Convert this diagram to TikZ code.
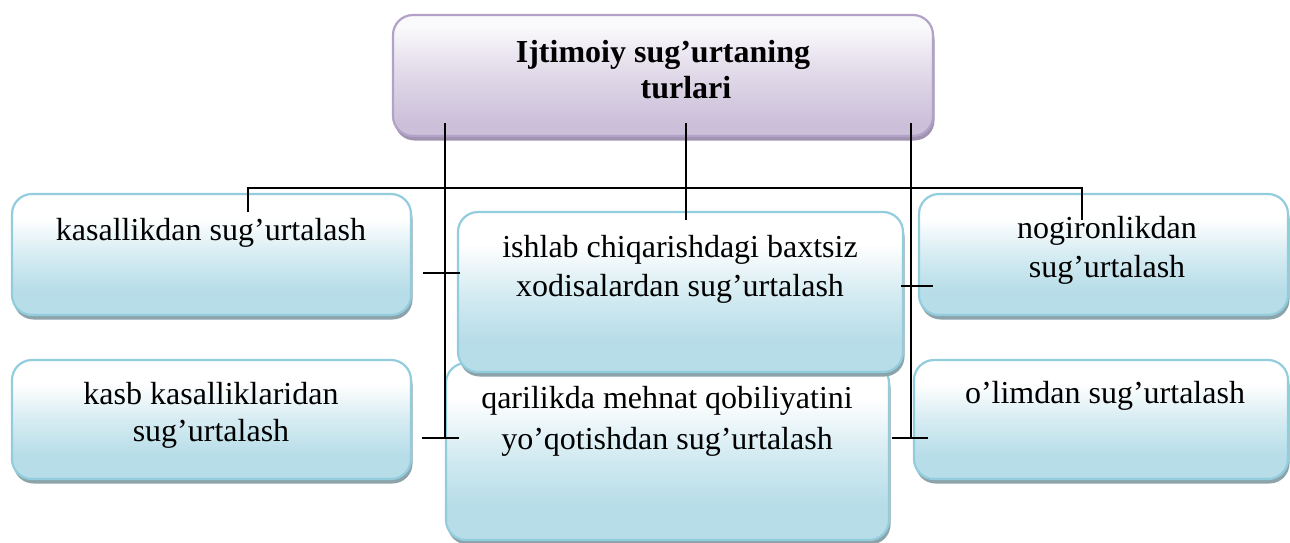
\documentclass[tikz,border=0pt]{standalone}
\usepackage{fontspec}
\setmainfont{Liberation Serif}
\usetikzlibrary{shadows}
\definecolor{bborder}{HTML}{93CDDD}
\definecolor{bbot}{HTML}{B7DDE8}
\definecolor{bmid}{HTML}{D6ECF2}
\definecolor{bshadowc}{HTML}{8CA3AA}
\definecolor{pborder}{HTML}{B3A2C7}
\definecolor{pbot}{HTML}{CBBFD9}
\definecolor{pmid}{HTML}{E2DBEA}
\definecolor{ptop}{HTML}{FAF9FB}
\definecolor{pshadowc}{HTML}{A093B0}
\pgfdeclareverticalshading{bluegrad}{100bp}{color(0bp)=(bbot); color(35bp)=(bbot); color(50bp)=(bmid); color(65bp)=(white); color(100bp)=(white)}
\pgfdeclareverticalshading{purplegrad}{100bp}{color(0bp)=(pbot); color(30bp)=(pbot); color(52bp)=(pmid); color(70bp)=(ptop); color(100bp)=(ptop)}
\tikzset{
  bbox/.style={draw=bborder, line width=2.2pt, rounded corners=20pt, shading=bluegrad,
    drop shadow={shadow xshift=1.5pt, shadow yshift=-4.5pt, fill=bshadowc, opacity=1},
    inner sep=0pt, outer sep=0pt},
  pbox/.style={draw=pborder, line width=2.2pt, rounded corners=20pt, shading=purplegrad,
    drop shadow={shadow xshift=1.5pt, shadow yshift=-4.5pt, fill=pshadowc, opacity=1},
    inner sep=0pt, outer sep=0pt},
  txt/.style={font=\fontsize{32}{38}\selectfont, inner sep=0pt, anchor=base},
  ttl/.style={font=\bfseries\fontsize{32}{38}\selectfont, inner sep=0pt, anchor=base},
  conn/.style={draw=black, line width=1.8pt}
}
\begin{document}
\begin{tikzpicture}[x=1pt,y=-1pt]
\useasboundingbox (0,0) rectangle (1290,542);
% boxes
\node[pbox, minimum width=540pt, minimum height=121pt] (top) at (663,75.5) {};
\node[bbox, minimum width=399pt, minimum height=121pt] (L1) at (211.5,254.5) {};
\node[bbox, minimum width=399pt, minimum height=119pt] (L2) at (211.5,419.5) {};
\node[bbox, minimum width=443pt, minimum height=177pt] (M2) at (667.5,451.5) {};
\node[bbox, minimum width=445pt, minimum height=160pt] (M1) at (680.5,292) {};
\node[bbox, minimum width=369pt, minimum height=121pt] (R1) at (1103.5,254.5) {};
\node[bbox, minimum width=374pt, minimum height=119pt] (R2) at (1101,419.5) {};
% texts
\node[ttl] (t1a) at (663,62) {Ijtimoiy sug’urtaning};
\node[ttl] (t1b) at (686,98) {turlari};
\node[txt] (tL1) at (211,240) {kasallikdan sug’urtalash};
\node[txt] (tL2a) at (211,404) {kasb kasalliklaridan};
\node[txt] (tL2b) at (211,441) {sug’urtalash};
\node[txt] (tM1a) at (680,257) {ishlab chiqarishdagi baxtsiz};
\node[txt] (tM1b) at (680,296) {xodisalardan sug’urtalash};
\node[txt] (tM2a) at (667,408) {qarilikda mehnat qobiliyatini};
\node[txt] (tM2b) at (667,449) {yo’qotishdan sug’urtalash};
\node[txt] (tR1a) at (1107,238) {nogironlikdan};
\node[txt] (tR1b) at (1107,277) {sug’urtalash};
\node[txt] (tR2) at (1105,403) {o’limdan sug’urtalash};
% connector points
\coordinate (vLs) at (445,123);
\coordinate (vLe) at (445,438);
\coordinate (vMs) at (686,123);
\coordinate (vMe) at (686,220);
\coordinate (vRs) at (911,123);
\coordinate (vRe) at (911,438);
\coordinate (hL) at (248,188);
\coordinate (hR) at (1082,188);
\coordinate (dL) at (248,212);
\coordinate (dR) at (1082,220);
\coordinate (s1a) at (423,273);
\coordinate (s1b) at (460,273);
\coordinate (s2a) at (422,438);
\coordinate (s2b) at (459,438);
\coordinate (s3a) at (901,286);
\coordinate (s3b) at (933,286);
\coordinate (s4a) at (892,438);
\coordinate (s4b) at (928,438);
% connectors
\draw[conn] (vLs) -- (vLe);
\draw[conn] (vMs) -- (vMe);
\draw[conn] (vRs) -- (vRe);
\draw[conn] (dL) -- (hL) -- (hR) -- (dR);
\draw[conn] (s1a) -- (s1b);
\draw[conn] (s2a) -- (s2b);
\draw[conn] (s3a) -- (s3b);
\draw[conn] (s4a) -- (s4b);
\end{tikzpicture}
\end{document}
